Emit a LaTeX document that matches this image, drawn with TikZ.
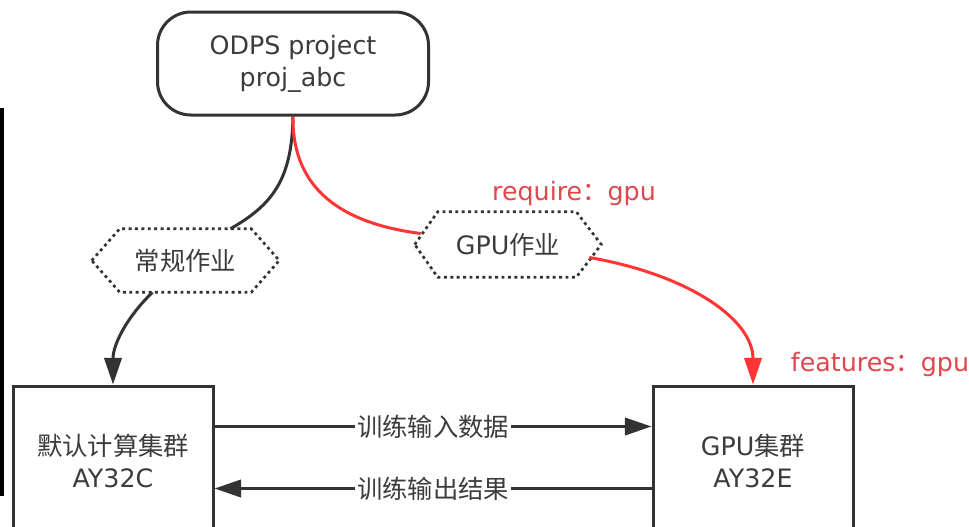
\documentclass[tikz,border=0pt]{standalone}
\usepackage{fontspec}
\setmainfont{DejaVu Sans}
\newfontfamily\cjk{Noto Sans CJK SC}
\usetikzlibrary{arrows.meta,calc}
\definecolor{ink}{HTML}{3C3C3C}
\definecolor{linegray}{HTML}{333333}
\definecolor{redline}{HTML}{FF3535}
\definecolor{redtext}{HTML}{E0474C}
\tikzset{
  basefont/.style={font=\fontsize{19}{24}\selectfont},
  pill/.style={draw=linegray, line width=2.25pt, rounded corners=25pt, minimum width=203.25pt, minimum height=77.25pt, align=center, text=ink, basefont},
  cluster/.style={draw=linegray, line width=2.25pt, minimum width=150pt, minimum height=112.5pt, align=center, text=ink, basefont},
  hexlabel/.style={draw=none, text=ink, basefont, inner sep=0pt},
  hexborder/.style={draw=linegray, line width=2pt, dash pattern=on 2.2pt off 2.6pt},
  conn/.style={draw=linegray, line width=2.25pt},
  redconn/.style={draw=redline, line width=2.25pt},
  tip/.style={-{Triangle[length=20pt,width=13pt]}},
  edgelabel/.style={fill=white, text=ink, basefont, inner sep=1.5pt},
  redlabel/.style={text=redtext, basefont, inner sep=0pt}
}
\begin{document}
\begin{tikzpicture}[x=0.75pt,y=-0.75pt]
\useasboundingbox (0,0) rectangle (969,526);
\fill[white] (0,0) rectangle (969,526);

% left black bar
\fill[black] (0,108) rectangle (3.5,496);

% nodes
\node[pill] (top) at (293,63.5) {ODPS project\\proj\_abc};
\node[hexlabel, minimum width=140.25pt, minimum height=47.25pt] (lh) at (185.5,260.5) {\cjk 常规作业};
\node[hexlabel, minimum width=139.5pt, minimum height=48.75pt] (rh) at (508,244.5) {GPU{\cjk 作业}};
\node[cluster] (lb) at (113,461) {{\cjk 默认计算集群}\\AY32C};
\node[cluster] (rb) at (753,461) {GPU{\cjk 集群}\\AY32E};

% hexagon borders
\draw[hexborder] (lh.west) -- ($(lh.north west)+(28,0)$) -- ($(lh.north east)+(-28,0)$) -- (lh.east)
  -- ($(lh.south east)+(-28,0)$) -- ($(lh.south west)+(28,0)$) -- cycle;
\draw[hexborder] (rh.west) -- ($(rh.north west)+(23,0)$) -- ($(rh.north east)+(-25,0)$) -- (rh.east)
  -- ($(rh.south east)+(-25,0)$) -- ($(rh.south west)+(23,0)$) -- cycle;

% red labels
\node[redlabel] (req) at (574,194) {require{\cjk ：}gpu};
\node[redlabel] (feat) at (880,364) {features{\cjk ：}gpu};

% connector points
\coordinate (lhin) at ($(lh.north)+(45,0)$);
\coordinate (lhout) at ($(lh.south)+(-33,0)$);
\coordinate (rhin) at ($(rh.west)+(6,-11)$);
\coordinate (rhout) at ($(rh.east)+(-12,13)$);

% connectors
\draw[conn] (top.south) .. controls (292,180) and (272,205) .. (lhin);
\draw[conn, tip] (lhout) .. controls (126,318) and (113,345) .. (lb.north);
\draw[redconn] (top.south) .. controls (292,180) and (330,222) .. (rhin);
\draw[redconn, tip] (rhout) .. controls (690,275) and (753,320) .. (rb.north);

% horizontal arrows
\draw[conn, tip] ($(lb.north east)+(0,42)$) -- node[edgelabel] (in) {\cjk 训练输入数据} ($(rb.north west)+(0,42)$);
\draw[conn, tip] ($(rb.north west)+(0,104)$) -- node[edgelabel] (out) {\cjk 训练输出结果} ($(lb.north east)+(0,104)$);
\end{tikzpicture}
\end{document}
